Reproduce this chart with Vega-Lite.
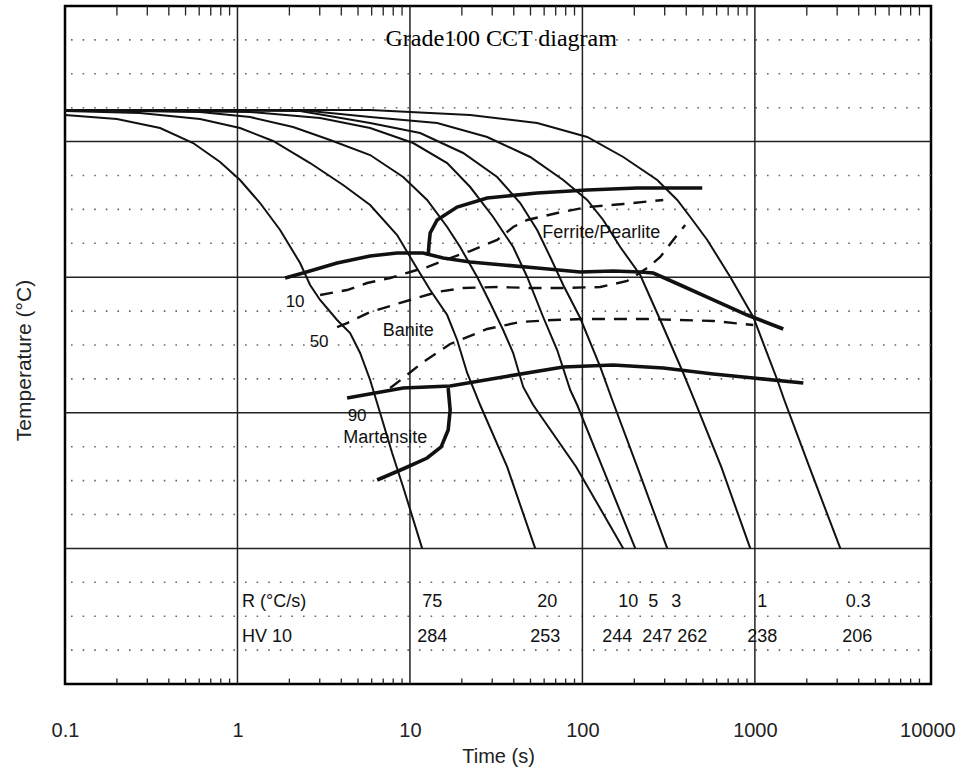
{
  "$schema": "https://vega.github.io/schema/vega-lite/v6.json",
  "width": 866,
  "height": 678,
  "autosize": {"type": "none"},
  "padding": {"left": 65, "top": 6, "right": 30, "bottom": 94},
  "background": "white",
  "config": {
    "view": {"stroke": "#000", "strokeWidth": 2.5},
    "font": "Liberation Sans",
    "axis": {"labelFont": "Liberation Sans", "titleFont": "Liberation Sans"}
  },
  "resolve": {"axis": {"x": "independent", "y": "independent"}},
  "datasets": {
    "minorT": [{"T": 50}, {"T": 100}, {"T": 150}, {"T": 250}, {"T": 300}, {"T": 350}, {"T": 450}, {"T": 500}, {"T": 550}, {"T": 650}, {"T": 700}, {"T": 750}, {"T": 850}, {"T": 900}, {"T": 950}],
    "majorT": [{"T": 200}, {"T": 400}, {"T": 600}, {"T": 800}],
    "decades": [{"t": 1}, {"t": 10}, {"t": 100}, {"t": 1000}],
    "minorTicks": [
      {"t": 0.2}, {"t": 0.3}, {"t": 0.4}, {"t": 0.5}, {"t": 0.6}, {"t": 0.7}, {"t": 0.8}, {"t": 0.9},
      {"t": 2}, {"t": 3}, {"t": 4}, {"t": 5}, {"t": 6}, {"t": 7}, {"t": 8}, {"t": 9},
      {"t": 20}, {"t": 30}, {"t": 40}, {"t": 50}, {"t": 60}, {"t": 70}, {"t": 80}, {"t": 90},
      {"t": 200}, {"t": 300}, {"t": 400}, {"t": 500}, {"t": 600}, {"t": 700}, {"t": 800}, {"t": 900},
      {"t": 2000}, {"t": 3000}, {"t": 4000}, {"t": 5000}, {"t": 6000}, {"t": 7000}, {"t": 8000}, {"t": 9000}
    ],
    "cooling": [
      {"rate": "75", "t": 0.1, "T": 839.2}, {"rate": "75", "t": 0.2, "T": 833.3}, {"rate": "75", "t": 0.356, "T": 820.1}, {"rate": "75", "t": 0.553, "T": 797.9}, {"rate": "75", "t": 0.793, "T": 769.9}, {"rate": "75", "t": 1.035, "T": 743.4}, {"rate": "75", "t": 1.352, "T": 709.4}, {"rate": "75", "t": 1.767, "T": 669.6}, {"rate": "75", "t": 2.307, "T": 620.9}, {"rate": "75", "t": 2.637, "T": 588.5}, {"rate": "75", "t": 3.014, "T": 566.4}, {"rate": "75", "t": 3.781, "T": 536.9}, {"rate": "75", "t": 4.499, "T": 517.7}, {"rate": "75", "t": 5.143, "T": 488.2}, {"rate": "75", "t": 5.878, "T": 448.4}, {"rate": "75", "t": 6.718, "T": 399.7}, {"rate": "75", "t": 7.885, "T": 340.7}, {"rate": "75", "t": 9.134, "T": 290.6}, {"rate": "75", "t": 11.77, "T": 200},
      {"rate": "20", "t": 0.1, "T": 845.1}, {"rate": "20", "t": 0.272, "T": 842.2}, {"rate": "20", "t": 0.607, "T": 833.3}, {"rate": "20", "t": 1.035, "T": 820.1}, {"rate": "20", "t": 1.609, "T": 800.9}, {"rate": "20", "t": 2.637, "T": 768.4}, {"rate": "20", "t": 4.098, "T": 736.0}, {"rate": "20", "t": 5.878, "T": 706.5}, {"rate": "20", "t": 8.428, "T": 662.2}, {"rate": "20", "t": 10.44, "T": 622.4}, {"rate": "20", "t": 13.1, "T": 581.1}, {"rate": "20", "t": 16.44, "T": 544.2}, {"rate": "20", "t": 18.78, "T": 507.4}, {"rate": "20", "t": 21.47, "T": 458.7}, {"rate": "20", "t": 25.54, "T": 411.5}, {"rate": "20", "t": 36.63, "T": 320.1}, {"rate": "20", "t": 53.23, "T": 200},
      {"rate": "10", "t": 0.1, "T": 846.6}, {"rate": "10", "t": 0.607, "T": 843.7}, {"rate": "10", "t": 1.183, "T": 836.3}, {"rate": "10", "t": 2.101, "T": 821.5}, {"rate": "10", "t": 3.444, "T": 802.4}, {"rate": "10", "t": 5.878, "T": 780.2}, {"rate": "10", "t": 9.134, "T": 747.8}, {"rate": "10", "t": 12.58, "T": 713.9}, {"rate": "10", "t": 16.44, "T": 674.0}, {"rate": "10", "t": 19.55, "T": 644.5}, {"rate": "10", "t": 24.54, "T": 600.3}, {"rate": "10", "t": 29.19, "T": 561.9}, {"rate": "10", "t": 34.72, "T": 522.1}, {"rate": "10", "t": 39.69, "T": 488.2}, {"rate": "10", "t": 45.36, "T": 438.1}, {"rate": "10", "t": 51.83, "T": 411.5}, {"rate": "10", "t": 92.07, "T": 320.1}, {"rate": "10", "t": 172.5, "T": 200},
      {"rate": "5", "t": 0.1, "T": 846.6}, {"rate": "5", "t": 1.183, "T": 843.7}, {"rate": "5", "t": 3.014, "T": 834.8}, {"rate": "5", "t": 5.878, "T": 820.1}, {"rate": "5", "t": 10.44, "T": 797.9}, {"rate": "5", "t": 16.44, "T": 768.4}, {"rate": "5", "t": 22.35, "T": 733.0}, {"rate": "5", "t": 30.38, "T": 688.8}, {"rate": "5", "t": 39.69, "T": 644.5}, {"rate": "5", "t": 47.84, "T": 600.3}, {"rate": "5", "t": 59.22, "T": 541.3}, {"rate": "5", "t": 71.41, "T": 492.6}, {"rate": "5", "t": 85.01, "T": 433.6}, {"rate": "5", "t": 93.3, "T": 411.5}, {"rate": "5", "t": 130.3, "T": 320.1}, {"rate": "5", "t": 202.5, "T": 200},
      {"rate": "3", "t": 0.1, "T": 846.6}, {"rate": "3", "t": 2.307, "T": 845.1}, {"rate": "3", "t": 5.878, "T": 827.4}, {"rate": "3", "t": 11.46, "T": 812.7}, {"rate": "3", "t": 20.36, "T": 783.2}, {"rate": "3", "t": 32.04, "T": 747.8}, {"rate": "3", "t": 43.58, "T": 709.4}, {"rate": "3", "t": 54.67, "T": 669.6}, {"rate": "3", "t": 65.06, "T": 629.8}, {"rate": "3", "t": 77.39, "T": 588.5}, {"rate": "3", "t": 97.11, "T": 539.8}, {"rate": "3", "t": 126.9, "T": 467.6}, {"rate": "3", "t": 148.9, "T": 418.9}, {"rate": "3", "t": 207.9, "T": 320.1}, {"rate": "3", "t": 310.4, "T": 200},
      {"rate": "1", "t": 0.1, "T": 846.6}, {"rate": "1", "t": 2.307, "T": 846.6}, {"rate": "1", "t": 5.878, "T": 836.3}, {"rate": "1", "t": 14.38, "T": 827.4}, {"rate": "1", "t": 28.04, "T": 806.8}, {"rate": "1", "t": 49.8, "T": 777.3}, {"rate": "1", "t": 77.39, "T": 743.4}, {"rate": "1", "t": 106.6, "T": 713.9}, {"rate": "1", "t": 132.0, "T": 684.4}, {"rate": "1", "t": 165.7, "T": 644.5}, {"rate": "1", "t": 216.4, "T": 603.2}, {"rate": "1", "t": 282.7, "T": 536.9}, {"rate": "1", "t": 384.2, "T": 458.7}, {"rate": "1", "t": 445.3, "T": 418.9}, {"rate": "1", "t": 638.5, "T": 320.1}, {"rate": "1", "t": 940.3, "T": 200},
      {"rate": "0.3", "t": 0.1, "T": 846.6}, {"rate": "0.3", "t": 5.878, "T": 846.6}, {"rate": "0.3", "t": 22.35, "T": 839.2}, {"rate": "0.3", "t": 54.67, "T": 827.4}, {"rate": "0.3", "t": 106.6, "T": 806.8}, {"rate": "0.3", "t": 172.5, "T": 777.3}, {"rate": "0.3", "t": 271.6, "T": 743.4}, {"rate": "0.3", "t": 354.7, "T": 713.9}, {"rate": "0.3", "t": 422.1, "T": 688.8}, {"rate": "0.3", "t": 529.6, "T": 654.9}, {"rate": "0.3", "t": 720.0, "T": 600.3}, {"rate": "0.3", "t": 978.8, "T": 541.3}, {"rate": "0.3", "t": 1349, "T": 448.4}, {"rate": "0.3", "t": 1481, "T": 418.9}, {"rate": "0.3", "t": 2069, "T": 320.1}, {"rate": "0.3", "t": 3129, "T": 200}
    ],
    "boundaries": [
      {"line": "Fs", "t": 12.75, "T": 631.3}, {"line": "Fs", "t": 12.92, "T": 650.4}, {"line": "Fs", "t": 13.1, "T": 665.2}, {"line": "Fs", "t": 14.38, "T": 684.4}, {"line": "Fs", "t": 18.78, "T": 703.5}, {"line": "Fs", "t": 28.04, "T": 716.8}, {"line": "Fs", "t": 54.67, "T": 724.2}, {"line": "Fs", "t": 106.6, "T": 728.6}, {"line": "Fs", "t": 207.9, "T": 731.6}, {"line": "Fs", "t": 495.3, "T": 731.6},
      {"line": "Bs", "t": 1.889, "T": 598.8}, {"line": "Bs", "t": 2.402, "T": 606.2}, {"line": "Bs", "t": 3.781, "T": 620.9}, {"line": "Bs", "t": 5.878, "T": 631.3}, {"line": "Bs", "t": 8.428, "T": 635.7}, {"line": "Bs", "t": 11.93, "T": 635.7}, {"line": "Bs", "t": 15.58, "T": 628.3}, {"line": "Bs", "t": 22.35, "T": 622.4}, {"line": "Bs", "t": 34.72, "T": 618.0}, {"line": "Bs", "t": 54.67, "T": 613.6}, {"line": "Bs", "t": 97.11, "T": 607.7}, {"line": "Bs", "t": 150.9, "T": 609.1}, {"line": "Bs", "t": 216.4, "T": 607.7}, {"line": "Bs", "t": 257.6, "T": 606.2}, {"line": "Bs", "t": 369.3, "T": 588.5}, {"line": "Bs", "t": 573.9, "T": 566.4}, {"line": "Bs", "t": 903.4, "T": 544.2}, {"line": "Bs", "t": 1461, "T": 523.6},
      {"line": "Ms", "t": 4.322, "T": 421.8}, {"line": "Ms", "t": 9.134, "T": 436.6}, {"line": "Ms", "t": 17.11, "T": 439.5}, {"line": "Ms", "t": 34.72, "T": 452.8}, {"line": "Ms", "t": 77.39, "T": 467.6}, {"line": "Ms", "t": 150.9, "T": 470.5}, {"line": "Ms", "t": 294.3, "T": 466.1}, {"line": "Ms", "t": 573.9, "T": 457.2}, {"line": "Ms", "t": 978.8, "T": 451.3}, {"line": "Ms", "t": 1909, "T": 444.0},
      {"line": "M90", "t": 16.66, "T": 436.6}, {"line": "M90", "t": 17.11, "T": 404.1}, {"line": "M90", "t": 16.66, "T": 374.6}, {"line": "M90", "t": 15.17, "T": 349.6}, {"line": "M90", "t": 12.58, "T": 333.3}, {"line": "M90", "t": 9.381, "T": 318.6}, {"line": "M90", "t": 6.453, "T": 300.9}
    ],
    "fractions": [
      {"pct": "10", "t": 3.014, "T": 573.7}, {"pct": "10", "t": 4.322, "T": 581.1}, {"pct": "10", "t": 5.647, "T": 591.4}, {"pct": "10", "t": 7.677, "T": 598.8}, {"pct": "10", "t": 10.03, "T": 607.7}, {"pct": "10", "t": 12.58, "T": 615.0}, {"pct": "10", "t": 17.11, "T": 628.3}, {"pct": "10", "t": 22.35, "T": 638.6}, {"pct": "10", "t": 32.04, "T": 654.9}, {"pct": "10", "t": 39.69, "T": 674.0}, {"pct": "10", "t": 47.84, "T": 684.4}, {"pct": "10", "t": 71.41, "T": 694.7}, {"pct": "10", "t": 106.6, "T": 703.5}, {"pct": "10", "t": 172.5, "T": 708.0}, {"pct": "10", "t": 294.3, "T": 713.9},
      {"pct": "50", "t": 3.781, "T": 526.5}, {"pct": "50", "t": 4.322, "T": 532.4}, {"pct": "50", "t": 5.878, "T": 548.7}, {"pct": "50", "t": 10.03, "T": 566.4}, {"pct": "50", "t": 14.38, "T": 578.2}, {"pct": "50", "t": 20.36, "T": 584.1}, {"pct": "50", "t": 32.04, "T": 585.5}, {"pct": "50", "t": 49.8, "T": 584.1}, {"pct": "50", "t": 77.39, "T": 584.1}, {"pct": "50", "t": 126.9, "T": 585.5}, {"pct": "50", "t": 181.9, "T": 594.4}, {"pct": "50", "t": 237.6, "T": 613.6}, {"pct": "50", "t": 282.7, "T": 629.8}, {"pct": "50", "t": 336.2, "T": 654.9}, {"pct": "50", "t": 394.6, "T": 677.0},
      {"pct": "90", "t": 7.677, "T": 436.6}, {"pct": "90", "t": 9.134, "T": 451.3}, {"pct": "90", "t": 11.93, "T": 474.9}, {"pct": "90", "t": 17.11, "T": 501.5}, {"pct": "90", "t": 28.04, "T": 523.6}, {"pct": "90", "t": 43.58, "T": 533.9}, {"pct": "90", "t": 67.7, "T": 536.9}, {"pct": "90", "t": 101.1, "T": 538.3}, {"pct": "90", "t": 237.6, "T": 538.3}, {"pct": "90", "t": 573.9, "T": 535.4}, {"pct": "90", "t": 978.8, "T": 529.5}
    ],
    "regions": [
      {"label": "Ferrite/Pearlite", "t": 128.6, "T": 665.9},
      {"label": "Banite", "t": 9.763, "T": 520.6},
      {"label": "Martensite", "t": 7.183, "T": 362.8}
    ],
    "pctLabels": [
      {"label": "10", "t": 2.159, "T": 563.4},
      {"label": "50", "t": 2.974, "T": 504.4},
      {"label": "90", "t": 4.939, "T": 395.3}
    ],
    "tableHead": [
      {"label": "R (°C/s)", "t": 1.063, "T": 120.9},
      {"label": "HV 10", "t": 1.063, "T": 69.3}
    ],
    "tableVals": [
      {"label": "75", "t": 13.46, "T": 120.9}, {"label": "20", "t": 62.47, "T": 120.9}, {"label": "10", "t": 184.4, "T": 120.9}, {"label": "5", "t": 257.6, "T": 120.9}, {"label": "3", "t": 350.0, "T": 120.9}, {"label": "1", "t": 1104, "T": 120.9}, {"label": "0.3", "t": 3980, "T": 120.9},
      {"label": "284", "t": 13.46, "T": 69.3}, {"label": "253", "t": 60.83, "T": 69.3}, {"label": "244", "t": 159.2, "T": 69.3}, {"label": "247", "t": 271.6, "T": 69.3}, {"label": "262", "t": 433.5, "T": 69.3}, {"label": "238", "t": 1104, "T": 69.3}, {"label": "206", "t": 3926, "T": 69.3}
    ],
    "heading": [{"label": "Grade100 CCT diagram", "t": 33.8, "T": 951.3}]
  },
  "layer": [
    {
      "data": {"name": "minorT"},
      "mark": {"type": "rule", "color": "#666", "strokeWidth": 1.6, "strokeDash": [1.6, 10]},
      "encoding": {"y": {"field": "T", "type": "quantitative", "scale": {"domain": [0, 1000], "nice": false}, "axis": null}}
    },
    {
      "data": {"name": "majorT"},
      "mark": {"type": "rule", "color": "#222", "strokeWidth": 1.5},
      "encoding": {"y": {"field": "T", "type": "quantitative", "axis": null}}
    },
    {
      "data": {"name": "decades"},
      "mark": {"type": "rule", "color": "#222", "strokeWidth": 1.5},
      "encoding": {"x": {"field": "t", "type": "quantitative", "scale": {"type": "log", "domain": [0.1, 10500], "nice": false}, "axis": null}}
    },
    {
      "data": {"name": "minorTicks"},
      "mark": {"type": "rule", "color": "#222", "strokeWidth": 1.3},
      "encoding": {
        "x": {"field": "t", "type": "quantitative", "axis": null},
        "y": {"datum": 1000, "axis": null},
        "y2": {"datum": 986}
      }
    },
    {
      "data": {"name": "minorTicks"},
      "mark": {"type": "rule", "color": "#222", "strokeWidth": 1.3},
      "encoding": {
        "x": {"field": "t", "type": "quantitative", "axis": null},
        "y": {"datum": 0, "axis": null},
        "y2": {"datum": 8}
      }
    },
    {
      "data": {"name": "cooling"},
      "mark": {"type": "line", "color": "#111", "strokeWidth": 2},
      "encoding": {
        "x": {
          "field": "t", "type": "quantitative",
          "axis": {
            "values": [0.1, 1, 10, 100, 1000, 10000], "format": "~g",
            "labelFontSize": 20, "labelColor": "#222", "labelPadding": 36, "labelFlush": false, "labelOverlap": false,
            "ticks": false, "domain": false, "grid": false,
            "title": "Time (s)", "titleFontSize": 20, "titleFontWeight": "normal", "titleColor": "#222", "titlePadding": 6
          }
        },
        "y": {
          "field": "T", "type": "quantitative",
          "axis": {
            "labels": false, "ticks": false, "domain": false, "grid": false,
            "title": "Temperature (°C)", "titleFontSize": 21, "titleFontWeight": "normal", "titleColor": "#222",
            "titlePadding": 31, "titleY": 354
          }
        },
        "detail": {"field": "rate"},
        "order": {"value": null}
      }
    },
    {
      "data": {"name": "boundaries"},
      "mark": {"type": "line", "color": "#111", "strokeWidth": 3.6},
      "encoding": {
        "x": {"field": "t", "type": "quantitative", "axis": null},
        "y": {"field": "T", "type": "quantitative", "axis": null},
        "detail": {"field": "line"},
        "order": {"value": null}
      }
    },
    {
      "data": {"name": "fractions"},
      "mark": {"type": "line", "color": "#111", "strokeWidth": 2.4, "strokeDash": [13, 9]},
      "encoding": {
        "x": {"field": "t", "type": "quantitative", "axis": null},
        "y": {"field": "T", "type": "quantitative", "axis": null},
        "detail": {"field": "pct"},
        "order": {"value": null}
      }
    },
    {
      "data": {"name": "regions"},
      "mark": {"type": "text", "font": "Liberation Sans", "fontSize": 18, "color": "#111", "align": "center", "baseline": "middle"},
      "encoding": {
        "x": {"field": "t", "type": "quantitative", "axis": null},
        "y": {"field": "T", "type": "quantitative", "axis": null},
        "text": {"field": "label"}
      }
    },
    {
      "data": {"name": "pctLabels"},
      "mark": {"type": "text", "font": "Liberation Sans", "fontSize": 17, "color": "#111", "align": "center", "baseline": "middle"},
      "encoding": {
        "x": {"field": "t", "type": "quantitative", "axis": null},
        "y": {"field": "T", "type": "quantitative", "axis": null},
        "text": {"field": "label"}
      }
    },
    {
      "data": {"name": "tableHead"},
      "mark": {"type": "text", "font": "Liberation Sans", "fontSize": 18, "color": "#111", "align": "left", "baseline": "middle"},
      "encoding": {
        "x": {"field": "t", "type": "quantitative", "axis": null},
        "y": {"field": "T", "type": "quantitative", "axis": null},
        "text": {"field": "label"}
      }
    },
    {
      "data": {"name": "tableVals"},
      "mark": {"type": "text", "font": "Liberation Sans", "fontSize": 18, "color": "#111", "align": "center", "baseline": "middle"},
      "encoding": {
        "x": {"field": "t", "type": "quantitative", "axis": null},
        "y": {"field": "T", "type": "quantitative", "axis": null},
        "text": {"field": "label"}
      }
    },
    {
      "data": {"name": "heading"},
      "mark": {"type": "text", "font": "Liberation Serif", "fontSize": 24, "color": "#000", "align": "center", "baseline": "middle"},
      "encoding": {
        "x": {"field": "t", "type": "quantitative", "axis": null},
        "y": {"field": "T", "type": "quantitative", "axis": null},
        "text": {"field": "label"}
      }
    }
  ]
}
